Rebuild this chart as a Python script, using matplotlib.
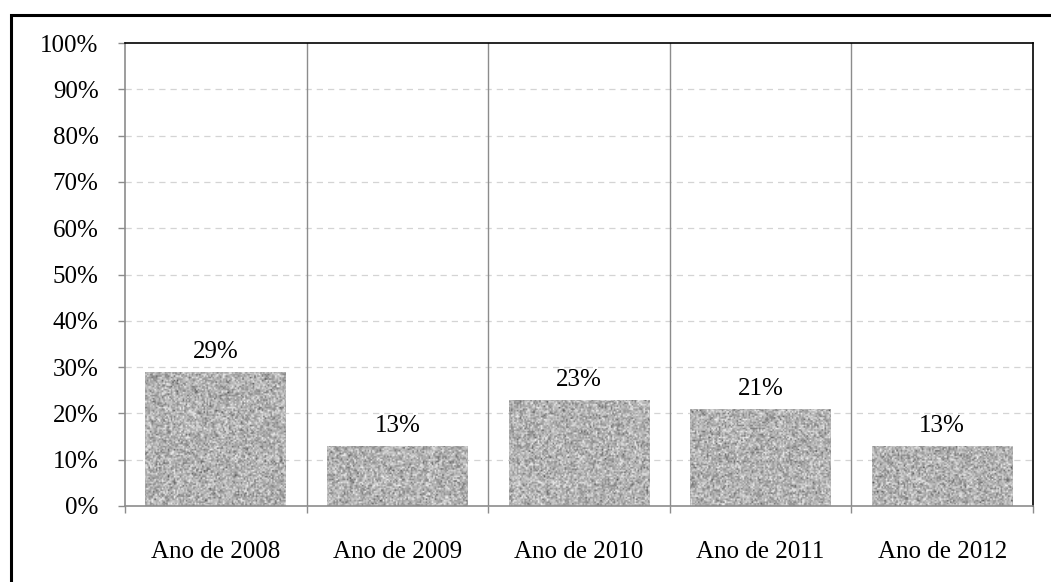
import numpy as np
import matplotlib
matplotlib.use("Agg")
import matplotlib.pyplot as plt
from matplotlib.patches import Rectangle

plt.rcParams['font.family'] = ['Liberation Serif', 'DejaVu Serif']

categories = ["Ano de 2008", "Ano de 2009", "Ano de 2010", "Ano de 2011", "Ano de 2012"]
values = [29, 13, 23, 21, 13]
y_ticks = list(range(0, 101, 10))

FS = 18

fig = plt.figure(figsize=(10.51, 5.82), dpi=100)
ax = fig.add_axes([125 / 1051, 1 - 506 / 582, 908 / 1051, 463 / 582])

x = np.arange(len(categories))
bars = ax.bar(x, values, width=0.776, color="#aaaaaa", zorder=2)

# granite-like grey speckle fill, clipped to each bar
rng = np.random.default_rng(7)
speckle = rng.normal(0.70, 0.12, size=(310, 610))
speckle = np.clip(speckle, 0.25, 0.93)
for b in bars:
    im = ax.imshow(speckle, cmap="gray", vmin=0, vmax=1, aspect="auto",
                   extent=(-0.5, len(categories) - 0.5, 0, 100),
                   interpolation="bilinear", zorder=2.5)
    im.set_clip_path(b)

for xi, v in zip(x, values):
    ax.annotate(f"{v}%", (xi, v), xytext=(0, 6), textcoords="offset points",
                ha="center", va="bottom", fontsize=FS)

ax.set_xlim(-0.5, len(categories) - 0.5)
ax.set_ylim(0, 100)
ax.set_yticks(y_ticks)
ax.set_yticklabels([f"{t}%" for t in y_ticks], fontsize=FS)
ax.set_xticks(x)
ax.set_xticklabels(categories, fontsize=FS)
ax.tick_params(axis="x", length=0, pad=25)
ax.set_xticks(np.arange(-0.5, len(categories)), minor=True)
ax.tick_params(axis="x", which="minor", length=5, color="#8c8c8c", width=1)
ax.tick_params(axis="y", length=5, color="#8c8c8c", width=1, pad=14)

for t in y_ticks[1:-1]:
    ax.axhline(t, color="#d4d4d4", lw=0.9, ls=(0, (5, 4)), zorder=1)
for bx in np.arange(0.5, len(categories) - 1):
    ax.axvline(bx, color="#8c8c8c", lw=1, zorder=1)

ax.spines["left"].set_color("#8c8c8c")
ax.spines["bottom"].set_color("#8c8c8c")
ax.spines["top"].set_color("black")
ax.spines["right"].set_color("black")
for s in ax.spines.values():
    s.set_linewidth(1.2)
ax.spines["bottom"].set_zorder(3)

# outer chart frame, running off the right and bottom edges
fig.patches.append(Rectangle((11 / 1051, -0.1), 1.2, 1 - 14.5 / 582 + 0.1,
                             transform=fig.transFigure, fill=False,
                             edgecolor="black", lw=2.2))

fig.savefig("out.png", dpi=100)
